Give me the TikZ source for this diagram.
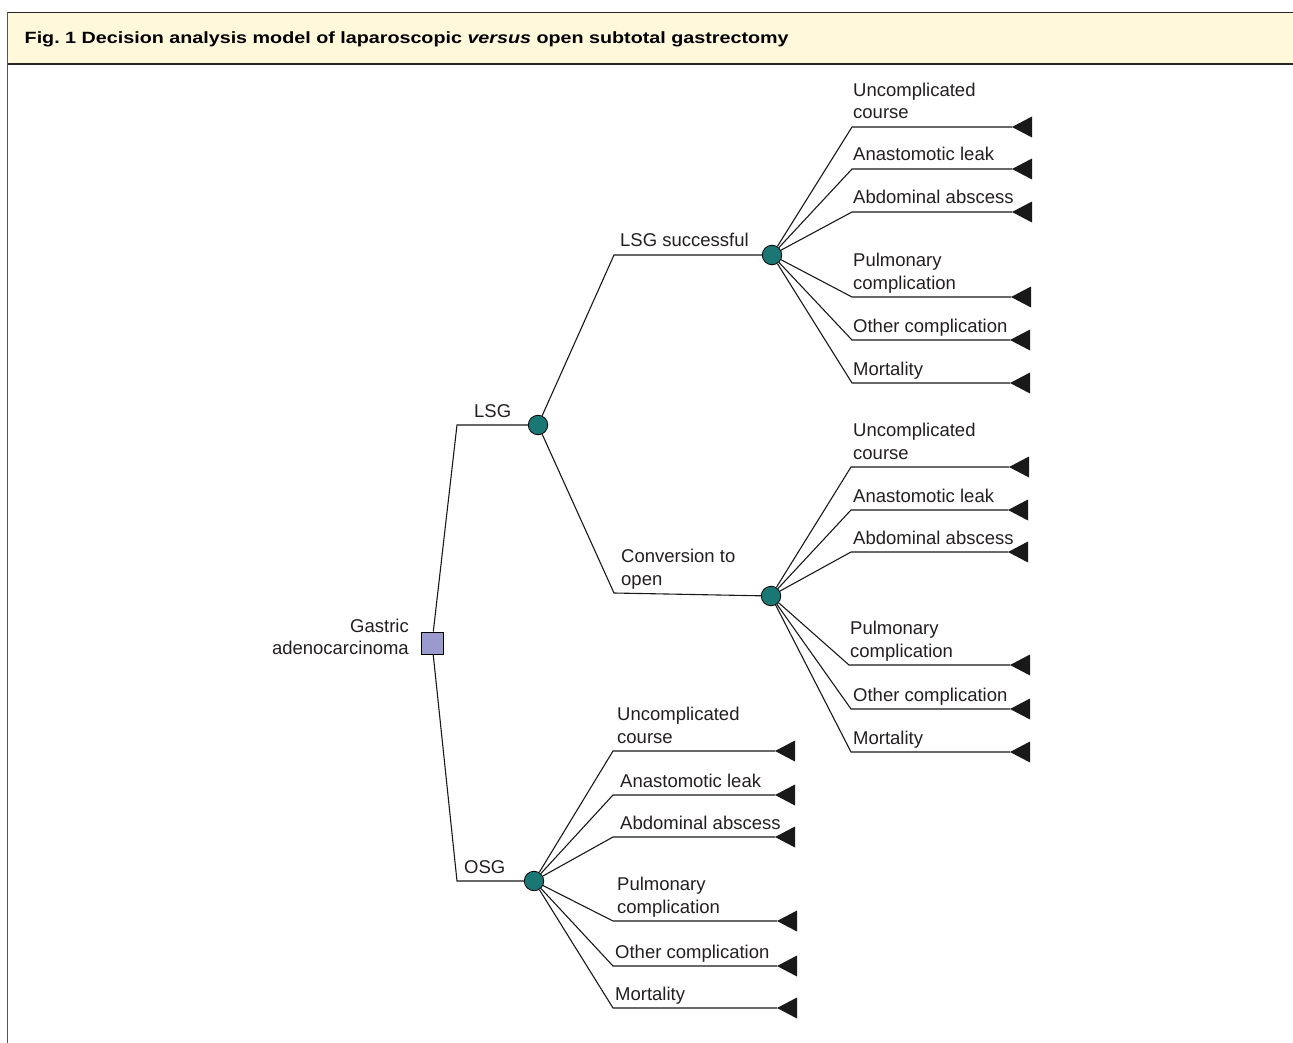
\documentclass[tikz,border=0pt]{standalone}
\usepackage{graphicx}
\usepackage{fontspec}
\setmainfont{Liberation Sans}
\newfontfamily\lblfam{Liberation Sans}
\definecolor{hdrfill}{HTML}{FFF8DA}
\definecolor{chancefill}{HTML}{1B7773}
\definecolor{decfill}{HTML}{9A9ACF}
\definecolor{txt}{HTML}{231F20}
\definecolor{frameline}{HTML}{555555}
\newcommand{\lblfont}{\lblfam\fontsize{18.5}{22.5}\selectfont}
\newcommand{\ttlfont}{\lblfam\bfseries\fontsize{16.3}{19}\selectfont}
\tikzset{
  chance/.style={circle, draw=black, line width=0.8pt, fill=chancefill, minimum size=19.5pt, inner sep=0pt},
  decision/.style={rectangle, draw=black, line width=0.8pt, fill=decfill, minimum size=22pt, inner sep=0pt},
  lbl/.style={anchor=base west, inner sep=0pt, font=\lblfont, text=txt, align=left},
  lblr/.style={anchor=base east, inner sep=0pt, font=\lblfont, text=txt, align=right},
  branch/.style={line width=1.1pt, draw=black!90},
  tri/.style={fill=black!90}
}
\begin{document}
\begin{tikzpicture}[x=1pt,y=-1pt]
\useasboundingbox (0,0) rectangle (1293,1043);
% header
\fill[hdrfill] (7.5,12.5) rectangle (1293,64);
\draw[line width=1.6pt, black!85] (7.5,12.5) -- (1293,12.5);
\draw[line width=1.6pt, black!85] (7.5,64) -- (1293,64);
\draw[line width=1.6pt, frameline] (7.5,12.5) -- (7.5,1043);
\node[anchor=base west, inner sep=0pt, font=\ttlfont, text=black] (title) at (24.5,43.5)
  {\scalebox{1.21}[1]{Fig.\ 1 Decision analysis model of laparoscopic \textit{versus} open subtotal gastrectomy}};

% main nodes
\node[decision] (root) at (432,643) {};
\node[lblr] (rootlbl) at (409,654.5) {Gastric\\adenocarcinoma};
\node[chance] (lsg) at (538,425) {};
\node[chance] (osg) at (534,881) {};
\node[chance] (succ) at (772,255) {};
\node[chance] (conv) at (771,596) {};

\coordinate (klsg) at (457,425);
\coordinate (kosg) at (457,881);
\coordinate (ksucc) at (614,255);
\coordinate (kconv) at (614,593);

\draw[branch] (root) -- (klsg) -- (lsg);
\draw[branch] (root) -- (kosg) -- (osg);
\draw[branch] (lsg) -- (ksucc) -- (succ);
\draw[branch] (lsg) -- (kconv) -- (conv);

\node[lbl] (lsglbl) at (474,417) {LSG};
\node[lbl] (osglbl) at (464,873) {OSG};
\node[lbl] (succlbl) at (620,246.7) {LSG successful};
\node[lbl] (convlbl) at (621,585) {Conversion to\\open};

% terminal branches: #1 name, #2 parent, #3 corner x, #4 line y, #5 label x, #6 tip x, #7 label
\newcommand{\term}[7]{%
  \coordinate (k#1) at (#3,#4);
  \coordinate (t#1) at (#6,#4);
  \draw[branch] (#2) -- (k#1) -- (t#1);
  \fill[tri] (t#1) -- ++(20,-10.5) -- ++(0,21) -- cycle;
  \node[lbl] (l#1) at (#5,#4-8) {#7};
}
% LSG successful
\term{s1}{succ}{852}{127}{853}{1012}{Uncomplicated\\course}
\term{s2}{succ}{852}{169}{853}{1012}{Anastomotic leak}
\term{s3}{succ}{852}{212}{853}{1012}{Abdominal abscess}
\term{s4}{succ}{852}{297}{853}{1011}{Pulmonary\\complication}
\term{s5}{succ}{852}{340}{853}{1010}{Other complication}
\term{s6}{succ}{852}{383}{853}{1010}{Mortality}
% Conversion
\term{c1}{conv}{851}{467}{853}{1009}{Uncomplicated\\course}
\term{c2}{conv}{851}{510}{853}{1008}{Anastomotic leak}
\term{c3}{conv}{851}{552}{853}{1008}{Abdominal abscess}
\term{c4}{conv}{849}{665}{850}{1010}{Pulmonary\\complication}
\term{c5}{conv}{851}{709}{853}{1010}{Other complication}
\term{c6}{conv}{851}{752}{853}{1010}{Mortality}
% OSG
\term{o1}{osg}{613}{751}{617}{775}{Uncomplicated\\course}
\term{o2}{osg}{613}{795}{620}{775}{Anastomotic leak}
\term{o3}{osg}{613}{837}{620}{775}{Abdominal abscess}
\term{o4}{osg}{613}{921}{617}{777}{Pulmonary\\complication}
\term{o5}{osg}{613}{966}{615}{777}{Other complication}
\term{o6}{osg}{613}{1008}{615}{777}{Mortality}
\end{tikzpicture}
\end{document}
